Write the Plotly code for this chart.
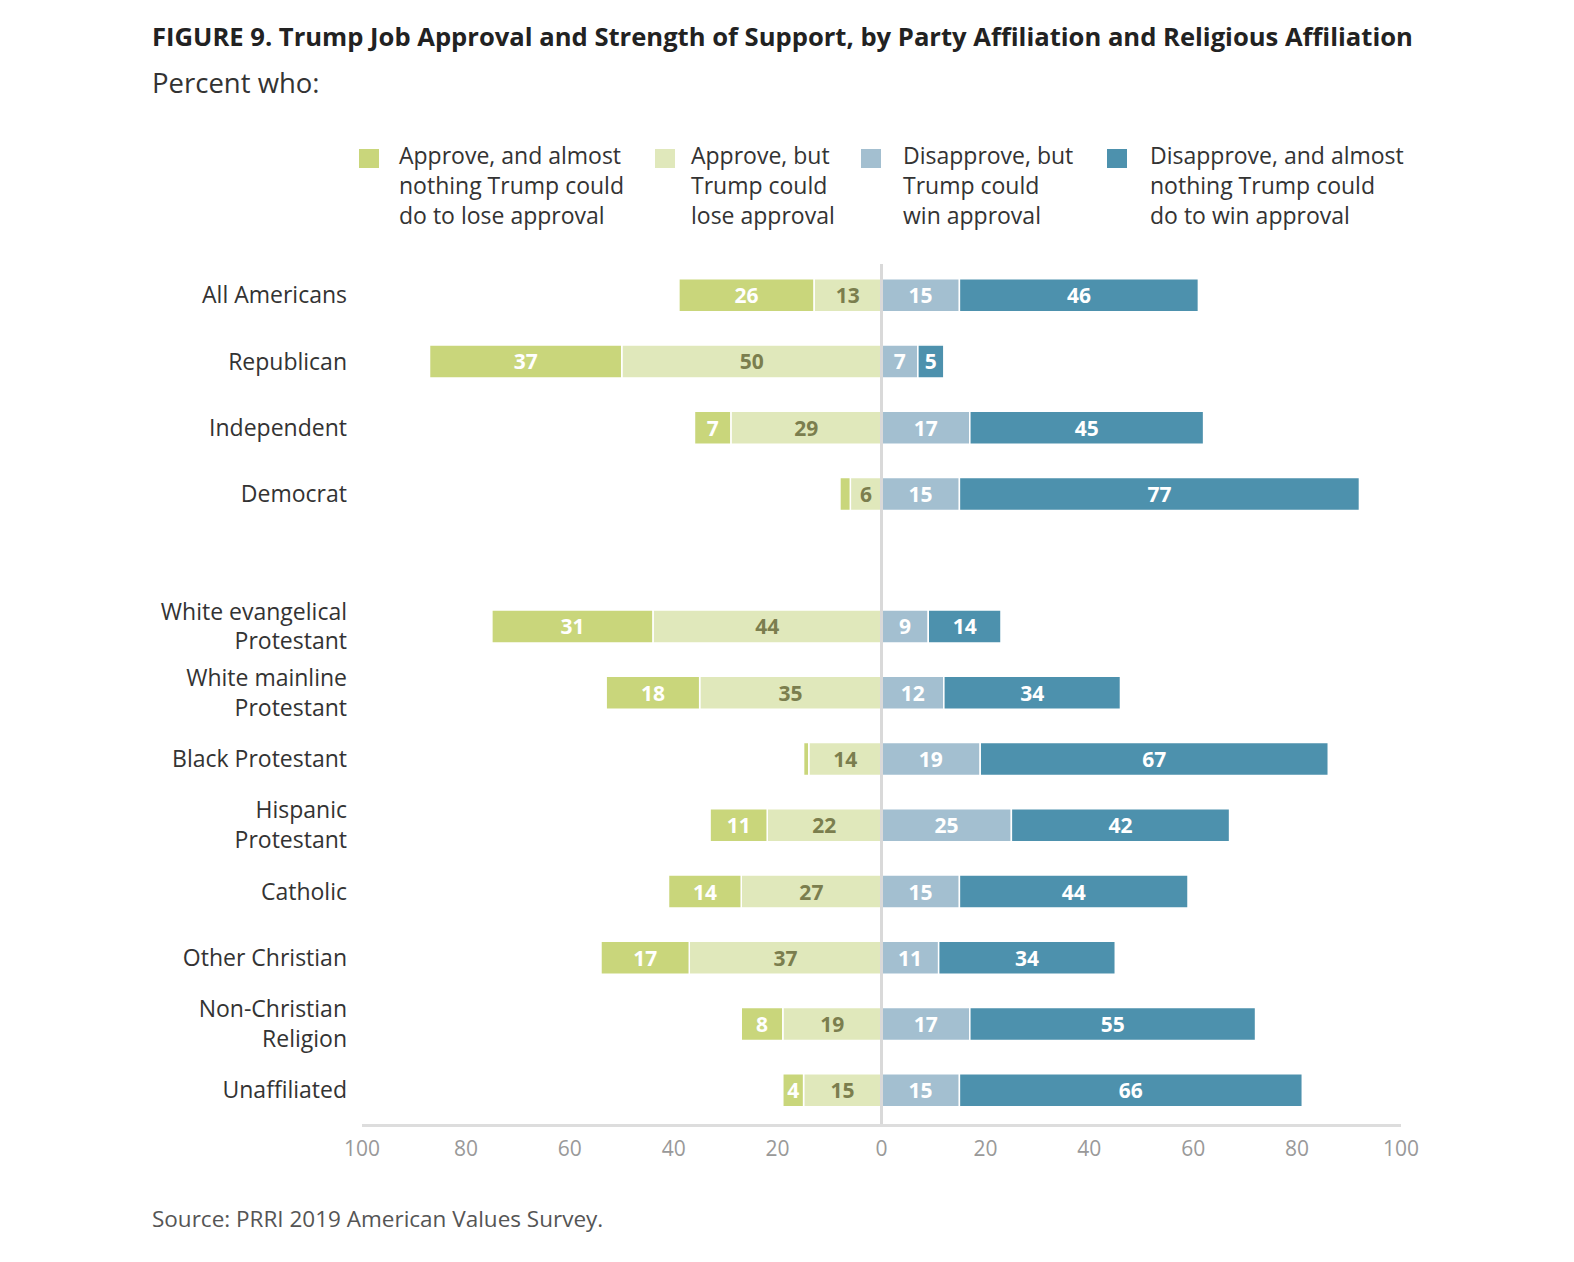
import plotly.graph_objects as go

categories = ["All Americans", "Republican", "Independent", "Democrat", "",
              "White evangelical<br>Protestant", "White mainline<br>Protestant",
              "Black Protestant", "Hispanic<br>Protestant", "Catholic",
              "Other Christian", "Non-Christian<br>Religion", "Unaffiliated"]
approve_strong = [26, 37, 7, 2, None, 31, 18, 1, 11, 14, 17, 8, 4]
approve_weak = [13, 50, 29, 6, None, 44, 35, 14, 22, 27, 37, 19, 15]
disapprove_weak = [15, 7, 17, 15, None, 9, 12, 19, 25, 15, 11, 17, 15]
disapprove_strong = [46, 5, 45, 77, None, 14, 34, 67, 42, 44, 34, 55, 66]

series_names = ["Approve, and almost<br>nothing Trump could<br>do to lose approval",
                "Approve, but<br>Trump could<br>lose approval",
                "Disapprove, but<br>Trump could<br>win approval",
                "Disapprove, and almost<br>nothing Trump could<br>do to win approval"]
colors = ["#c9d67b", "#e0e8bb", "#a3bfd0", "#4d91ad"]
text_colors = ["#ffffff", "#7b7e4e", "#ffffff", "#ffffff"]

tick_vals = [-100, -80, -60, -40, -20, 0, 20, 40, 60, 80, 100]
tick_text = [str(abs(v)) for v in tick_vals]

FONT = "Open Sans"
W, H = 1574, 1262
L, R, T, B = 362, 1401, 264, 1124

ypos = list(range(len(categories)))

def lab(vals):
    return ["" if (v is None or v < 3) else str(v) for v in vals]

def neg(vals):
    return [None if v is None else -v for v in vals]

fig = go.Figure()
order = [(1, approve_weak, True), (0, approve_strong, True),
         (2, disapprove_weak, False), (3, disapprove_strong, False)]
for idx, vals, is_neg in order:
    fig.add_trace(go.Bar(
        y=ypos, x=neg(vals) if is_neg else vals, orientation="h",
        name=series_names[idx].replace("<br>", " "),
        marker=dict(color=colors[idx], line=dict(color="white", width=1.5)),
        width=0.5,
        text=lab(vals), textposition="inside", insidetextanchor="middle",
        textangle=0, constraintext="none",
        textfont=dict(family=FONT, size=21, color=text_colors[idx], weight=700),
        hoverinfo="skip", showlegend=False,
    ))

def px(x):
    return (x - L) / (R - L)

def py(y):
    return (B - y) / (B - T)

annotations = []
annotations.append(dict(x=px(150), y=py(37), xref="paper", yref="paper",
                        xanchor="left", yanchor="middle", showarrow=False,
                        text="<b>FIGURE 9. Trump Job Approval and Strength of Support, by Party Affiliation and Religious Affiliation</b>",
                        font=dict(family=FONT, size=25.6, color="#222222")))
annotations.append(dict(x=px(150), y=py(83), xref="paper", yref="paper",
                        xanchor="left", yanchor="middle", showarrow=False,
                        text="Percent who:", font=dict(family=FONT, size=27.5, color="#333333")))
annotations.append(dict(x=px(150), y=py(1218), xref="paper", yref="paper",
                        xanchor="left", yanchor="middle", showarrow=False,
                        text="Source: PRRI 2019 American Values Survey.",
                        font=dict(family=FONT, size=22.5, color="#555555")))

shapes = []
legend_sq_x = [359, 655, 861, 1107]
legend_tx_x = [397, 689, 901, 1148]
for i in range(4):
    shapes.append(dict(type="rect", xref="paper", yref="paper",
                       x0=px(legend_sq_x[i]), x1=px(legend_sq_x[i] + 20),
                       y0=py(149), y1=py(168), fillcolor=colors[i], line=dict(width=0)))
    annotations.append(dict(x=px(legend_tx_x[i]), y=py(185), xref="paper", yref="paper",
                            xanchor="left", yanchor="middle", align="left", showarrow=False,
                            text=series_names[i],
                            font=dict(family=FONT, size=23, color="#333333")))

shapes.append(dict(type="line", xref="x", yref="paper", x0=0, x1=0, y0=0, y1=1,
                   line=dict(color="#d9d9d9", width=3), layer="above"))

fig.update_layout(
    width=W, height=H, barmode="relative",
    margin=dict(l=L, r=W - R, t=T, b=H - B, pad=0),
    paper_bgcolor="white", plot_bgcolor="white",
    annotations=annotations, shapes=shapes,
    xaxis=dict(range=[-100, 100], tickvals=tick_vals, ticktext=tick_text,
               showgrid=False, zeroline=False, showline=True, linecolor="#dddddd",
               linewidth=3, ticks="", ticklabelstandoff=4,
               tickfont=dict(family=FONT, size=21, color="#999999"), fixedrange=True),
    yaxis=dict(range=[len(categories) - 1 + 0.509, -0.471], tickvals=ypos,
               ticktext=categories, showgrid=False, zeroline=False, showline=False,
               ticks="", ticklabelstandoff=14,
               tickfont=dict(family=FONT, size=23, color="#333333"), fixedrange=True),
    font=dict(family=FONT),
)

fig.write_html("out.html")
